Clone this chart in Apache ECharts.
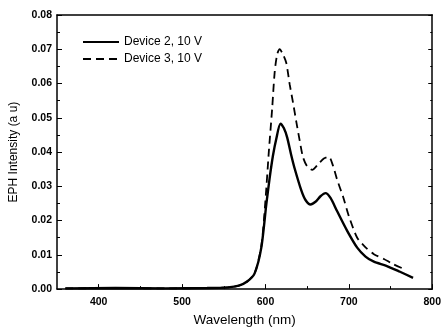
<!DOCTYPE html>
<html>
<head>
<meta charset="utf-8">
<script src="https://cdn.jsdelivr.net/npm/echarts@6/dist/echarts.min.js"></script>
<style>
  html, body { margin: 0; padding: 0; background: #fff; }
  #chart { width: 444px; height: 332px; }
</style>
</head>
<body>
<div id="chart"></div>
<script>
// wavelength (nm) and intensity (a u)
const wavelength2 = [360, 420, 480, 530, 555, 568, 578, 587, 595, 601, 605, 609, 613, 618, 622, 626, 631, 635, 643, 648, 654, 660, 666, 672, 678, 686, 698, 710, 720, 730, 745, 760, 777];
const device2 = [0.0002, 0.0003, 0.0002, 0.0003, 0.0005, 0.001, 0.0022, 0.0046, 0.0121, 0.0247, 0.0324, 0.039, 0.0439, 0.0483, 0.047, 0.0443, 0.039, 0.0352, 0.0288, 0.026, 0.0247, 0.0255, 0.0271, 0.028, 0.0266, 0.0227, 0.017, 0.0121, 0.0095, 0.008, 0.0068, 0.0052, 0.0033];
const wavelength3 = [360, 420, 480, 530, 555, 568, 578, 587, 595, 600, 604, 608, 611, 614, 617, 621, 625, 629, 633, 637, 641, 645, 650, 656, 664, 670, 676, 681, 686, 693, 700, 710, 720, 730, 742, 753, 765];
const device3 = [0.0002, 0.0003, 0.0002, 0.0003, 0.0005, 0.001, 0.0022, 0.0046, 0.0125, 0.026, 0.04, 0.0526, 0.0632, 0.0685, 0.07, 0.0685, 0.066, 0.0598, 0.0545, 0.0488, 0.0434, 0.0385, 0.0358, 0.0348, 0.0367, 0.0381, 0.0386, 0.036, 0.0319, 0.027, 0.0213, 0.015, 0.0122, 0.0102, 0.0088, 0.0073, 0.006];
const seriesNames = ['Device 2, 10 V', 'Device 3, 10 V'];
const xMajor = [400, 500, 600, 700, 800];
const xMinor = [450, 550, 650, 750];

const chart = echarts.init(document.getElementById('chart'));
const font = 'Arial, "Liberation Sans", sans-serif';
const axisBase = {
  type: 'value',
  min: 350,
  max: 800,
  axisLine: { show: true, lineStyle: { color: '#000', width: 1.5 } },
  splitLine: { show: false },
};

const pair = (xs, ys) => xs.map((x, i) => [x, ys[i]]);

chart.setOption({
  animation: false,
  grid: { left: 57, right: 7, top: 15, bottom: 40 },
  legend: {
    orient: 'vertical',
    left: 82,
    top: 36,
    padding: 0,
    itemWidth: 36,
    itemHeight: 10,
    itemGap: 5,
    itemStyle: { opacity: 0 },
    textStyle: { fontFamily: font, fontSize: 12, color: '#000' },
    data: seriesNames,
  },
  xAxis: [
    {
      ...axisBase,
      position: 'bottom',
      name: 'Wavelength (nm)',
      nameLocation: 'middle',
      nameGap: 23,
      nameTextStyle: { fontFamily: font, fontSize: 13.5, color: '#000' },
      axisTick: { inside: true, length: 5, customValues: xMajor, lineStyle: { color: '#000' } },
      axisLabel: { customValues: xMajor, fontFamily: font, fontSize: 10.5, fontWeight: 'bold', color: '#000', margin: 8 },
    },
    {
      ...axisBase,
      position: 'bottom',
      axisLine: { show: false },
      axisTick: { inside: true, length: 3, customValues: xMinor, lineStyle: { color: '#000' } },
      axisLabel: { show: false },
    },
    {
      ...axisBase,
      position: 'top',
      axisTick: { show: false },
      axisLabel: { show: false },
    },
  ],
  yAxis: [
    {
      type: 'value',
      min: 0,
      max: 0.08,
      interval: 0.01,
      position: 'left',
      name: 'EPH Intensity (a u)',
      nameLocation: 'middle',
      nameGap: 37,
      nameTextStyle: { fontFamily: font, fontSize: 12, color: '#000' },
      axisLine: { show: true, lineStyle: { color: '#000', width: 1.5 } },
      axisTick: { inside: true, length: 5, lineStyle: { color: '#000' } },
      minorTick: { show: true, splitNumber: 2, length: 3, lineStyle: { color: '#000' } },
      splitLine: { show: false },
      axisLabel: { formatter: (v) => v.toFixed(2), fontFamily: font, fontSize: 10.5, fontWeight: 'bold', color: '#000', margin: 5 },
    },
    {
      type: 'value',
      min: 0,
      max: 0.08,
      interval: 0.01,
      position: 'right',
      axisLine: { show: true, lineStyle: { color: '#000', width: 1.5 } },
      axisTick: { inside: true, length: 4, lineStyle: { color: '#000' } },
      minorTick: { show: true, splitNumber: 2, length: 2, lineStyle: { color: '#000' } },
      splitLine: { show: false },
      axisLabel: { show: false },
    },
  ],
  series: [
    {
      name: seriesNames[0],
      type: 'line',
      smooth: 0.25,
      symbol: 'none',
      data: pair(wavelength2, device2),
      lineStyle: { color: '#000', width: 2.4, type: 'solid' },
      itemStyle: { color: '#000' },
    },
    {
      name: seriesNames[1],
      type: 'line',
      smooth: 0.25,
      symbol: 'none',
      data: pair(wavelength3, device3),
      lineStyle: { color: '#000', width: 1.8, type: [8, 5] },
      itemStyle: { color: '#000' },
    },
  ],
});
</script>
</body>
</html>
